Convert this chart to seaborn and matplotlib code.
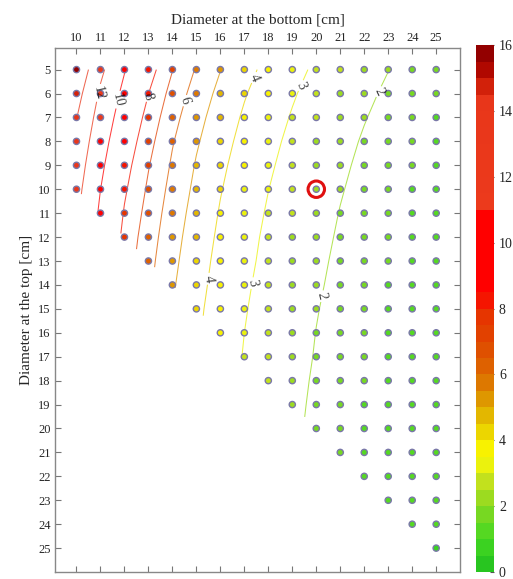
import numpy as np
import pandas as pd
import matplotlib
matplotlib.use("Agg")
import matplotlib.pyplot as plt
import seaborn as sns
from matplotlib.colors import LinearSegmentedColormap, ListedColormap, Normalize
from matplotlib.cm import ScalarMappable

# ---- data -------------------------------------------------------------
bottom_diam = list(range(10, 26))   # x: diameter at the bottom [cm]
top_diam = list(range(5, 26))       # y: diameter at the top [cm]

# values per row (top diameter); each row starts at bottom = max(10, top)
row_values = {
    5:  [15.60, 12.40, 10.10, 8.48, 7.03, 5.91, 5.02, 4.31, 3.73, 3.26, 2.86, 2.53, 2.25, 2.01, 1.81, 1.63],
    6:  [14.74, 11.72, 9.54, 8.01, 6.64, 5.58, 4.74, 4.07, 3.52, 3.08, 2.70, 2.39, 2.13, 1.90, 1.71, 1.54],
    7:  [14.06, 11.17, 9.10, 7.64, 6.33, 5.32, 4.52, 3.88, 3.36, 2.94, 2.58, 2.28, 2.03, 1.81, 1.63, 1.47],
    8:  [13.48, 10.71, 8.73, 7.33, 6.07, 5.11, 4.34, 3.72, 3.22, 2.82, 2.47, 2.19, 1.94, 1.74, 1.56, 1.41],
    9:  [12.99, 10.33, 8.41, 7.06, 5.86, 4.92, 4.18, 3.59, 3.11, 2.72, 2.38, 2.11, 1.87, 1.67, 1.51, 1.36],
    10: [12.59, 10.01, 8.15, 6.84, 5.67, 4.77, 4.05, 3.48, 3.01, 2.63, 2.31, 2.04, 1.82, 1.62, 1.46, 1.32],
    11: [9.71, 7.91, 6.64, 5.50, 4.63, 3.93, 3.37, 2.92, 2.55, 2.24, 1.98, 1.76, 1.57, 1.42, 1.28],
    12: [7.70, 6.46, 5.36, 4.50, 3.83, 3.28, 2.84, 2.48, 2.18, 1.93, 1.71, 1.53, 1.38, 1.24],
    13: [6.31, 5.23, 4.40, 3.73, 3.21, 2.78, 2.43, 2.13, 1.88, 1.67, 1.50, 1.35, 1.21],
    14: [5.11, 4.30, 3.65, 3.13, 2.71, 2.37, 2.08, 1.84, 1.64, 1.46, 1.32, 1.19],
    15: [4.20, 3.57, 3.06, 2.65, 2.32, 2.03, 1.80, 1.60, 1.43, 1.29, 1.16],
    16: [3.50, 3.00, 2.60, 2.27, 1.99, 1.76, 1.57, 1.40, 1.26, 1.14],
    17: [2.95, 2.55, 2.23, 1.96, 1.73, 1.54, 1.37, 1.24, 1.11],
    18: [2.51, 2.19, 1.92, 1.70, 1.51, 1.35, 1.22, 1.10],
    19: [2.15, 1.89, 1.67, 1.49, 1.33, 1.20, 1.08],
    20: [1.86, 1.65, 1.46, 1.31, 1.18, 1.06],
    21: [1.62, 1.44, 1.29, 1.16, 1.04],
    22: [1.42, 1.27, 1.14, 1.03],
    23: [1.25, 1.13, 1.02],
    24: [1.11, 1.00],
    25: [0.99],
}

highlight = (20, 10)
labelled_levels = [2, 3, 4, 6, 8, 10, 12]
plain_levels = [5, 7, 14]
label_spots = [(10.87, 5.96), (11.7, 6.25), (12.95, 6.1), (14.36, 6.25),
               (17.56, 5.4), (15.2, 13.7), (19.64, 5.8), (17.2, 13.9),
               (22.96, 6.1), (20.84, 14.6)]
cbar_ticks = [0, 2, 4, 6, 8, 10, 12, 14, 16]

# ---- build grid / table -------------------------------------------------
Z = np.full((len(top_diam), len(bottom_diam)), np.nan)
records = []
for i, t in enumerate(top_diam):
    start = max(10, t)
    for k, v in enumerate(row_values[t]):
        b = start + k
        Z[i, bottom_diam.index(b)] = v
        records.append((b, t, v))
df = pd.DataFrame(records, columns=["bottom", "top", "value"])
Zm = np.ma.masked_invalid(Z)

# ---- colormap (stepped, 0.5 per band) -----------------------------------
anchors = [
    (0.0, "#1fbf1f"), (1.0, "#44d822"), (2.0, "#88d822"), (3.0, "#d4e41c"),
    (3.5, "#ffff00"), (4.0, "#f2e600"), (4.5, "#e6c800"), (5.0, "#e0a800"),
    (5.5, "#dd8800"), (6.0, "#dd6a00"), (7.0, "#e04800"), (8.0, "#e83000"),
    (8.5, "#ff0000"), (11.0, "#ff0000"), (11.01, "#ec3a1c"), (14.5, "#e8361a"),
    (15.0, "#c41400"), (15.5, "#a40000"), (16.0, "#880000"),
]
smooth = LinearSegmentedColormap.from_list(
    "cm", [(v / 16.0, c) for v, c in anchors])
cmap = ListedColormap(smooth((np.arange(32) + 0.5) / 32.0))
norm = Normalize(0, 16)

# ---- figure ---------------------------------------------------------------
sns.set_style("white")
plt.rcParams["font.family"] = ["Liberation Serif", "DejaVu Serif"]

fig = plt.figure(figsize=(5.13, 5.79), dpi=100)
ax = fig.add_axes([0.107, 0.012, 0.790, 0.905])
cax = fig.add_axes([0.928, 0.012, 0.035, 0.910])

X, Y = np.meshgrid(bottom_diam, top_diam)
ax.contour(X, Y, Zm, levels=plain_levels, cmap=cmap, norm=norm,
           linewidths=0.75, alpha=0.75)
cs = ax.contour(X, Y, Zm, levels=labelled_levels, cmap=cmap, norm=norm,
                linewidths=0.75, alpha=0.75)
ax.clabel(cs, manual=label_spots, inline=True, fontsize=10, fmt="%d",
          colors="black", inline_spacing=3)

sns.scatterplot(data=df, x="bottom", y="top", hue="value", palette=cmap,
                hue_norm=norm, s=20, edgecolor="#7a78a8", linewidth=1.0,
                legend=False, ax=ax, zorder=3)
ax.scatter([highlight[0]], [highlight[1]], s=140, facecolors="none",
           edgecolors="#e01010", linewidths=2.2, zorder=4)

ax.set_xlim(9.1, 26.0)
ax.set_ylim(26.0, 4.1)
ax.set_xticks(bottom_diam)
ax.set_yticks(top_diam)
ax.xaxis.tick_top()
ax.xaxis.set_label_position("top")
ax.tick_params(top=True, bottom=True, left=True, right=True,
               labeltop=True, labelbottom=False, direction="in",
               length=4, width=0.8, color="#777777", labelsize=9, pad=3)
ax.set_xlabel("Diameter at the bottom [cm]", fontsize=11, labelpad=6)
ax.set_ylabel("Diameter at the top [cm]", fontsize=11, labelpad=4)
for sp in ax.spines.values():
    sp.set_color("#888888")
    sp.set_linewidth(1.0)

cb = fig.colorbar(ScalarMappable(norm=norm, cmap=cmap), cax=cax,
                  ticks=cbar_ticks)
cb.outline.set_visible(False)
cax.tick_params(labelsize=10, length=3, color="#555555", direction="in")

fig.savefig("out.png", dpi=100)
